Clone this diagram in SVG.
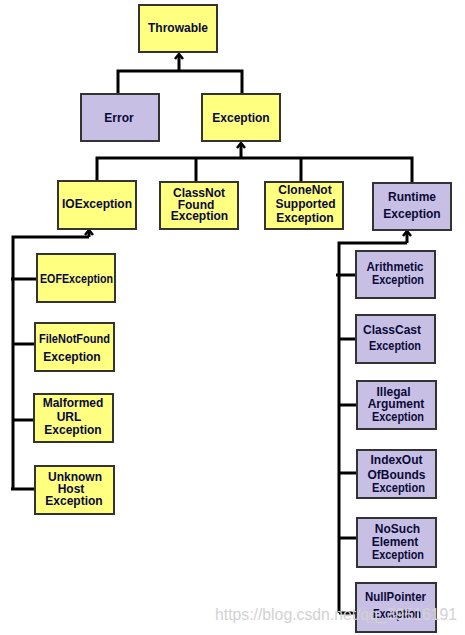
<svg xmlns="http://www.w3.org/2000/svg" width="465" height="635" viewBox="0 0 465 635">
<defs>
<style>
.y{fill:#FFFF80;stroke:#333;stroke-width:2}
.p{fill:#C8C0E4;stroke:#333;stroke-width:2}
.t{font-family:"Liberation Sans",Arial,sans-serif;font-weight:bold;font-size:12px;fill:#0a0a38;text-anchor:middle}
.c{fill:none;stroke:#000;stroke-width:3}
.a{fill:none;stroke:#000;stroke-width:2.5}
.w{font-family:"Liberation Sans",Arial,sans-serif;font-size:16px;fill:#d2d2d2}
</style>
</defs>
<rect width="465" height="635" fill="#fff"/>
<g id="connectors">
<path class="c" d="M179,71V55M118,95V71H242V95"/>
<path class="a" d="M175,59L179,54L183,59"/>
<path class="c" d="M241,158V144M97,182V158H412V183M196,158V182M301,158V182"/>
<path class="a" d="M237,148L241,143L245,148"/>
<path class="c" d="M89,237V231M13,237H89M13,235.5V489M11,279H37M13,344H36M13,420H35M11,489H35"/>
<path class="a" d="M85,235L89,230L93,235"/>
<path class="c" d="M407,243V232M339,243H407M339,241.5V613M336,275H356M339,339H356M339,405H357M339,473H357M339,538H357M339,613H356"/>
<path class="a" d="M403,236L407,231L411,236"/>
</g>
<g id="Throwable"><rect class="y" x="139" y="5" width="78" height="47"/><text class="t" x="178" y="32">Throwable</text></g>
<g id="Error"><rect class="p" x="81" y="94" width="78" height="47"/><text class="t" x="119" y="122">Error</text></g>
<g id="Exception"><rect class="y" x="202" y="94" width="78" height="47"/><text class="t" x="241" y="122">Exception</text></g>
<g id="IOException"><rect class="y" x="58" y="181" width="78" height="48"/><text class="t" x="97" y="208">IOException</text></g>
<g id="ClassNotFoundException"><rect class="y" x="160" y="182" width="78" height="47"/><text class="t" x="199" y="197">ClassNot</text><text class="t" x="196" y="208.5">Found</text><text class="t" x="199.5" y="220">Exception</text></g>
<g id="CloneNotSupportedException"><rect class="y" x="265" y="182" width="78" height="47"/><text class="t" x="305" y="194">CloneNot</text><text class="t" x="305.5" y="207.5">Supported</text><text class="t" x="305" y="222">Exception</text></g>
<g id="RuntimeException"><rect class="p" x="373" y="183" width="78" height="47"/><text class="t" x="412" y="201">Runtime</text><text class="t" x="412" y="218">Exception</text></g>
<g id="EOFException"><rect class="y" x="37" y="254" width="78" height="48"/><text class="t" x="76.5" y="283" textLength="73" lengthAdjust="spacingAndGlyphs">EOFException</text></g>
<g id="FileNotFoundException"><rect class="y" x="35" y="323" width="79" height="48"/><text class="t" x="74.5" y="343" textLength="71" lengthAdjust="spacingAndGlyphs">FileNotFound</text><text class="t" x="72" y="361">Exception</text></g>
<g id="MalformedURLException"><rect class="y" x="34" y="394" width="79" height="48"/><text class="t" x="73" y="407">Malformed</text><text class="t" x="69" y="421">URL</text><text class="t" x="73" y="434">Exception</text></g>
<g id="UnknownHostException"><rect class="y" x="35" y="466" width="79" height="48"/><text class="t" x="75" y="481">Unknown</text><text class="t" x="71" y="493">Host</text><text class="t" x="74" y="505">Exception</text></g>
<g id="ArithmeticException"><rect class="p" x="356" y="251" width="79" height="47"/><text class="t" x="395" y="271" textLength="57" lengthAdjust="spacingAndGlyphs">Arithmetic</text><text class="t" x="398" y="284" textLength="52" lengthAdjust="spacingAndGlyphs">Exception</text></g>
<g id="ClassCastException"><rect class="p" x="356" y="315" width="79" height="48"/><text class="t" x="392" y="334">ClassCast</text><text class="t" x="395" y="350" textLength="52" lengthAdjust="spacingAndGlyphs">Exception</text></g>
<g id="IllegalArgumentException"><rect class="p" x="357" y="381" width="79" height="48"/><text class="t" x="393.5" y="396">Illegal</text><text class="t" x="396" y="408">Argument</text><text class="t" x="398" y="421" textLength="52" lengthAdjust="spacingAndGlyphs">Exception</text></g>
<g id="IndexOutOfBoundsException"><rect class="p" x="357" y="450" width="79" height="48"/><text class="t" x="396.5" y="464">IndexOut</text><text class="t" x="396.5" y="479">OfBounds</text><text class="t" x="398.5" y="492" textLength="53" lengthAdjust="spacingAndGlyphs">Exception</text></g>
<g id="NoSuchElementException"><rect class="p" x="357" y="518" width="79" height="49"/><text class="t" x="397.5" y="533">NoSuch</text><text class="t" x="395" y="546">Element</text><text class="t" x="398" y="559" textLength="52" lengthAdjust="spacingAndGlyphs">Exception</text></g>
<g id="NullPointerException"><rect class="p" x="356" y="583" width="80" height="49"/><text class="t" x="395.5" y="601" textLength="61" lengthAdjust="spacingAndGlyphs">NullPointer</text><text class="t" x="397" y="618" textLength="48" lengthAdjust="spacingAndGlyphs">Exception</text></g>
<text class="w" x="215" y="620" textLength="242" lengthAdjust="spacingAndGlyphs">https://blog.csdn.net/qq_39516191</text>
</svg>
